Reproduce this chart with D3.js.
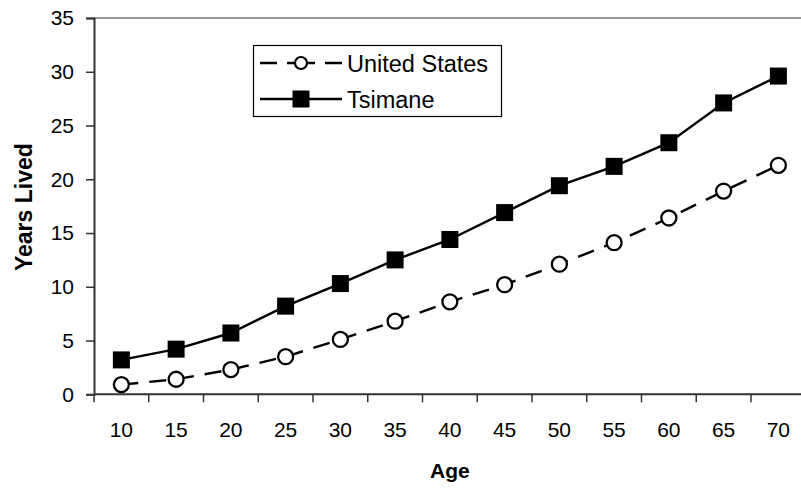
<!DOCTYPE html>
<html>
<head>
<meta charset="utf-8">
<script src="https://cdn.jsdelivr.net/npm/d3@7"></script>
<style>
  body { margin: 0; background: #fff; }
  svg { display: block; font-family: "Liberation Sans", Arial, sans-serif; }
</style>
</head>
<body>
<svg id="chart" width="801" height="489"></svg>
<script>
// Data
const ages = [10, 15, 20, 25, 30, 35, 40, 45, 50, 55, 60, 65, 70];
const usYears = [0.9, 1.4, 2.3, 3.5, 5.1, 6.8, 8.6, 10.2, 12.1, 14.1, 16.4, 18.9, 21.3];
const tsimaneYears = [3.2, 4.2, 5.7, 8.2, 10.3, 12.5, 14.4, 16.9, 19.4, 21.2, 23.4, 27.1, 29.6];
const yTicks = [0, 5, 10, 15, 20, 25, 30, 35];
const seriesNames = ["United States", "Tsimane"];

const svg = d3.select("#chart");
const width = 801, height = 489;

// Plot area (runs slightly past the right edge, as in the original)
const plotLeft = 94, plotTop = 18, plotBottom = 394.3, step = 54.75;
const plotRight = plotLeft + ages.length * step;

const x = d3.scaleBand().domain(ages).range([plotLeft, plotRight]);
const y = d3.scaleLinear().domain([0, 35]).range([plotBottom, plotTop]);
const cx = d => x(d) + x.bandwidth() / 2;

svg.append("rect").attr("width", width).attr("height", height).attr("fill", "#fff");

// Top border of plot area
svg.append("line")
  .attr("x1", plotLeft).attr("x2", plotRight)
  .attr("y1", plotTop).attr("y2", plotTop)
  .attr("stroke", "#9a9a9a")
  .attr("stroke-width", 2);

// Y axis
const yAxis = svg.append("g")
  .attr("transform", `translate(${plotLeft},0)`)
  .call(d3.axisLeft(y).tickValues(yTicks).tickSize(8).tickPadding(12));
yAxis.select(".domain").attr("stroke", "#333").attr("stroke-width", 2);
yAxis.selectAll(".tick line").attr("stroke", "#333").attr("stroke-width", 1.5);
yAxis.selectAll(".tick text")
  .attr("font-size", "21px")
  .attr("font-family", "Liberation Sans, Arial, sans-serif")
  .attr("fill", "#000");

// X axis: line, ticks at category boundaries, labels at centres
svg.append("line")
  .attr("x1", plotLeft).attr("x2", plotRight)
  .attr("y1", plotBottom).attr("y2", plotBottom)
  .attr("stroke", "#333")
  .attr("stroke-width", 2);

svg.selectAll("line.xtick")
  .data(ages)
  .enter()
  .append("line")
  .attr("class", "xtick")
  .attr("x1", d => x(d)).attr("x2", d => x(d))
  .attr("y1", plotBottom).attr("y2", plotBottom + 8)
  .attr("stroke", "#333")
  .attr("stroke-width", 1.5);

svg.selectAll("text.xlabel")
  .data(ages)
  .enter()
  .append("text")
  .attr("class", "xlabel")
  .attr("x", d => cx(d))
  .attr("y", 437)
  .attr("text-anchor", "middle")
  .attr("font-size", "21px")
  .attr("fill", "#000")
  .text(d => d);

// Axis titles
svg.append("text")
  .attr("x", (plotLeft + plotRight) / 2)
  .attr("y", 478)
  .attr("text-anchor", "middle")
  .attr("font-size", "21px")
  .attr("font-weight", "bold")
  .text("Age");

svg.append("text")
  .attr("transform", `translate(32,${(plotTop + plotBottom) / 2 + 1}) rotate(-90)`)
  .attr("text-anchor", "middle")
  .attr("font-size", "23px")
  .attr("font-weight", "bold")
  .text("Years Lived");

// Lines
const line = d3.line().x((d, i) => cx(ages[i])).y(d => y(d));

svg.append("path")
  .datum(usYears)
  .attr("d", line)
  .attr("fill", "none")
  .attr("stroke", "#000")
  .attr("stroke-width", 2.4)
  .attr("stroke-dasharray", "17,11");

svg.append("path")
  .datum(tsimaneYears)
  .attr("d", line)
  .attr("fill", "none")
  .attr("stroke", "#000")
  .attr("stroke-width", 2.4);

// Markers
svg.selectAll("circle.us")
  .data(usYears)
  .enter()
  .append("circle")
  .attr("class", "us")
  .attr("cx", (d, i) => cx(ages[i]))
  .attr("cy", d => y(d))
  .attr("r", 7.5)
  .attr("fill", "#fff")
  .attr("stroke", "#000")
  .attr("stroke-width", 2.3);

const sq = 17;
svg.selectAll("rect.ts")
  .data(tsimaneYears)
  .enter()
  .append("rect")
  .attr("class", "ts")
  .attr("x", (d, i) => cx(ages[i]) - sq / 2)
  .attr("y", d => y(d) - sq / 2)
  .attr("width", sq)
  .attr("height", sq)
  .attr("fill", "#000");

// Legend
const lg = svg.append("g");
lg.append("rect")
  .attr("x", 253.5).attr("y", 45.5)
  .attr("width", 248).attr("height", 71)
  .attr("fill", "#fff")
  .attr("stroke", "#000")
  .attr("stroke-width", 1.2);

const lx1 = 260, lx2 = 342, lmid = 301, row1 = 63, row2 = 99;

// dashed halves drawn outward-in so the pattern is symmetric
[[lx1, lmid], [lx2, lmid]].forEach(([a, b]) => {
  lg.append("line")
    .attr("x1", a).attr("x2", b)
    .attr("y1", row1).attr("y2", row1)
    .attr("stroke", "#000")
    .attr("stroke-width", 2.4)
    .attr("stroke-dasharray", "17,10");
});
lg.append("circle")
  .attr("cx", lmid).attr("cy", row1).attr("r", 6)
  .attr("fill", "#fff").attr("stroke", "#000").attr("stroke-width", 2.2);

lg.append("line")
  .attr("x1", lx1).attr("x2", lx2)
  .attr("y1", row2).attr("y2", row2)
  .attr("stroke", "#000")
  .attr("stroke-width", 2.4);
lg.append("rect")
  .attr("x", lmid - 8.5).attr("y", row2 - 8.5)
  .attr("width", 17).attr("height", 17)
  .attr("fill", "#000");

lg.selectAll("text.leg")
  .data(seriesNames)
  .enter()
  .append("text")
  .attr("class", "leg")
  .attr("x", 347)
  .attr("y", (d, i) => (i === 0 ? row1 : row2) + 8.5)
  .attr("font-size", "23.5px")
  .attr("fill", "#000")
  .text(d => d);
</script>
</body>
</html>
